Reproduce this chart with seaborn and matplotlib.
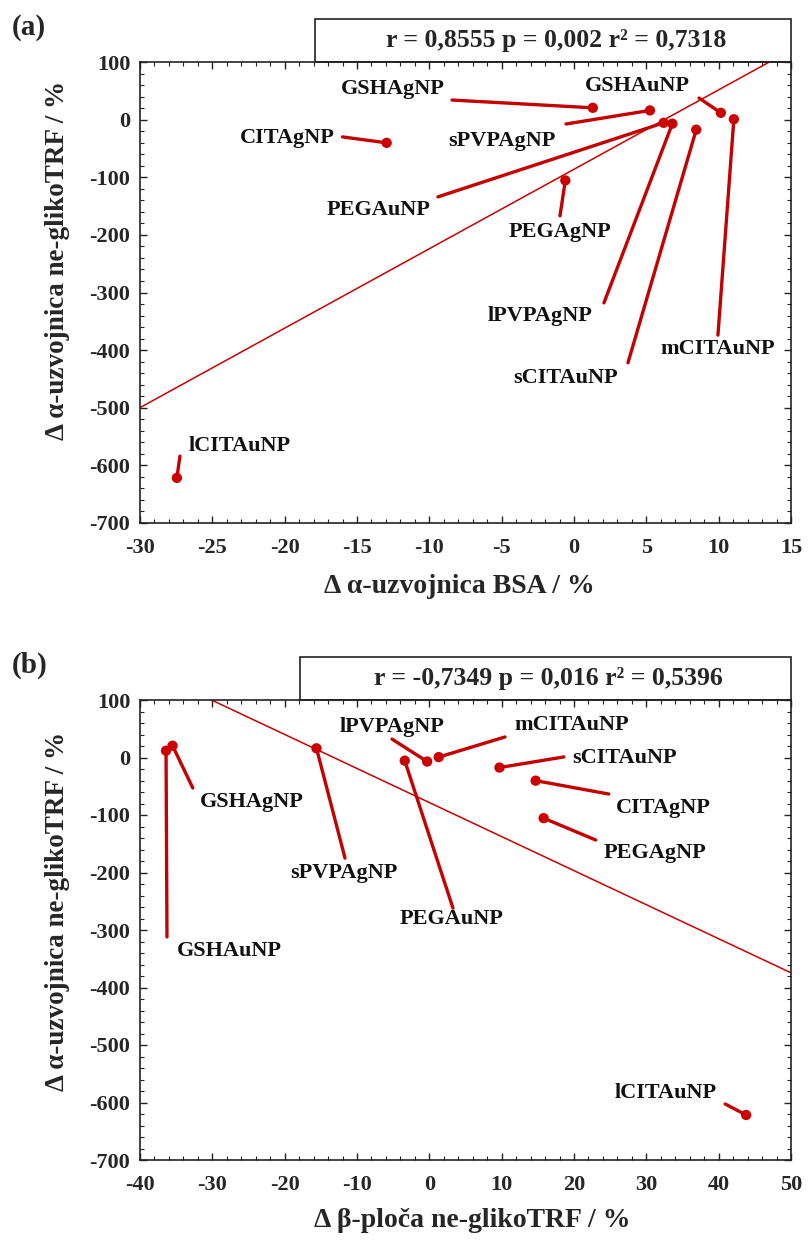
import matplotlib
matplotlib.use("Agg")
import matplotlib.pyplot as plt
from matplotlib.patches import Rectangle
from matplotlib.ticker import MultipleLocator, AutoMinorLocator
import numpy as np
import pandas as pd
import seaborn as sns

# ---------------- data ----------------
names = ['GSHAgNP', 'GSHAuNP', 'sPVPAgNP', 'CITAgNP', 'PEGAuNP',
         'lPVPAgNP', 'sCITAuNP', 'mCITAuNP', 'PEGAgNP', 'lCITAuNP']
alpha_trf = [20.5, 11.8, 16.0, -40.3, -5.5, -7.0, -17.5, 0.7, -105.5, -621.7]
alpha_bsa = [1.3, 10.15, 5.25, -12.95, 6.2, 6.8, 8.45, 11.05, -0.6, -27.45]
beta_trf = [-35.5, -36.4, -15.6, 14.7, -3.4, -0.3, 9.7, 1.3, 15.8, 43.8]

stats_a = 'r = 0,8555 p = 0,002 r² = 0,7318'
stats_b = 'r = -0,7349 p = 0,016 r² = 0,5396'

xlabel_a = 'Δ α-uzvojnica BSA / %'
xlabel_b = 'Δ β-ploča ne-glikoTRF / %'
ylabel = 'Δ α-uzvojnica ne-glikoTRF / %'

# label layout (text centre, leader-line start) in data units
layout_a = {
    'GSHAgNP': ((-12.5, 53), (-8.43, 34)),
    'GSHAuNP': ((4.35, 58), (8.64, 37.5)),
    'CITAgNP': ((-19.8, -32), (-16.0, -30)),
    'sPVPAgNP': ((-5.0, -37), (-0.55, -7.6)),
    'PEGAuNP': ((-13.5, -157), (-9.4, -134)),
    'PEGAgNP': ((-1.0, -195), (-0.97, -167)),
    'lPVPAgNP': ((-2.35, -341), (2.07, -318)),
    'sCITAuNP': ((-0.6, -448), (3.73, -422)),
    'mCITAuNP': ((9.95, -398), (9.95, -374)),
    'lCITAuNP': ((-23.1, -566), (-27.24, -584)),
}
layout_b = {
    'lPVPAgNP': ((-5.2, 53), (-5.16, 32)),
    'mCITAuNP': ((19.7, 56.5), (10.46, 35.7)),
    'sCITAuNP': ((27.0, -1), (18.6, 1)),
    'CITAgNP': ((32.4, -87), (24.8, -63.5)),
    'PEGAgNP': ((31.2, -166), (23.0, -143.5)),
    'GSHAgNP': ((-24.5, -77), (-32.7, -53)),
    'sPVPAgNP': ((-11.8, -201), (-11.66, -175)),
    'PEGAuNP': ((3.1, -281), (3.27, -262)),
    'GSHAuNP': ((-27.6, -336), (-36.27, -312)),
    'lCITAuNP': ((32.7, -583), (40.9, -602.6)),
}

df = pd.DataFrame({'name': names, 'a_trf': alpha_trf,
                   'a_bsa': alpha_bsa, 'b_trf': beta_trf})

# ---------------- style ----------------
sns.set_style('ticks')
plt.rcParams['font.family'] = ['Liberation Serif', 'DejaVu Serif']
plt.rcParams['font.weight'] = 'bold'
plt.rcParams['axes.unicode_minus'] = False

RED = '#cc0000'
LEAD = '#c40000'

fig = plt.figure(figsize=(8.08, 12.43), dpi=100)
ax_a = fig.add_axes([140/808, 1-523/1243, 651/808, 461/1243])
ax_b = fig.add_axes([140/808, 1-1160/1243, 651/808, 460/1243])


def panel(ax, xcol, xlim, xmajor, layout, stats, box_x0, xlabel, letter,
          xlab_pos, ylab_pos):
    ax.set_xlim(*xlim)
    ax.set_ylim(-700, 100)
    sns.regplot(data=df, x=xcol, y='a_trf', ax=ax, scatter=False, ci=None,
                truncate=False, color=RED, line_kws=dict(lw=1.1, zorder=2))
    for nm in names:
        (tx, ty), (lx, ly) = layout[nm]
        row = df[df['name'] == nm].iloc[0]
        ax.annotate('', xy=(row[xcol], row['a_trf']), xytext=(lx, ly),
                    arrowprops=dict(arrowstyle='-', color=LEAD, lw=2.4,
                                    shrinkA=0, shrinkB=0), zorder=3)
        ax.text(tx, ty, nm, ha='center', va='center', fontsize=16,
                fontweight='bold', color='#111111', zorder=4)
    sns.scatterplot(data=df, x=xcol, y='a_trf', ax=ax, color=RED, s=55,
                    edgecolor='none', zorder=5, legend=False)
    ax.set_xlim(*xlim)
    ax.set_ylim(-700, 100)
    ax.xaxis.set_major_locator(MultipleLocator(xmajor))
    ax.xaxis.set_minor_locator(AutoMinorLocator(5))
    ax.yaxis.set_major_locator(MultipleLocator(100))
    ax.yaxis.set_minor_locator(AutoMinorLocator(5))
    ax.tick_params(which='both', direction='in', top=True, right=True,
                   color='#222222')
    ax.tick_params(which='major', length=5, width=1.0, labelsize=16)
    ax.tick_params(which='minor', length=3, width=0.8)
    ax.tick_params(axis='x', which='major', pad=11)
    ax.tick_params(axis='y', which='major', pad=7)
    for lab in ax.get_xticklabels() + ax.get_yticklabels():
        lab.set_fontweight('bold')
    for sp in ax.spines.values():
        sp.set_linewidth(1.2)
        sp.set_color('#222222')
    ax.set_xlabel(xlabel, fontsize=20, fontweight='bold')
    ax.set_ylabel(ylabel, fontsize=19.5, fontweight='bold')
    ax.xaxis.set_label_coords(*xlab_pos)
    ax.yaxis.set_label_coords(*ylab_pos)
    box_h = 43 / 461
    ax.add_patch(Rectangle((box_x0, 1.0), 1.0 - box_x0, box_h,
                           transform=ax.transAxes, clip_on=False,
                           facecolor='white', edgecolor='#222222', lw=1.2))
    ax.text((box_x0 + 1.0) / 2 + 0.005, 1.0 + box_h / 2, stats,
            transform=ax.transAxes, ha='center', va='center', fontsize=18.5,
            fontweight='bold')
    ax.text(-0.197, 1.0 + 0.075, letter, transform=ax.transAxes,
            ha='left', va='center', fontsize=21, fontweight='bold')


panel(ax_a, 'a_bsa', (-30, 15), 5, layout_a, stats_a, 175/651, xlabel_a,
      '(a)', (0.49, -0.11), (-0.108, 0.57))
panel(ax_b, 'b_trf', (-40, 50), 10, layout_b, stats_b, 160/651, xlabel_b,
      '(b)', (0.51, -0.105), (-0.108, 0.54))

fig.savefig('out.png', dpi=100, facecolor='white')
